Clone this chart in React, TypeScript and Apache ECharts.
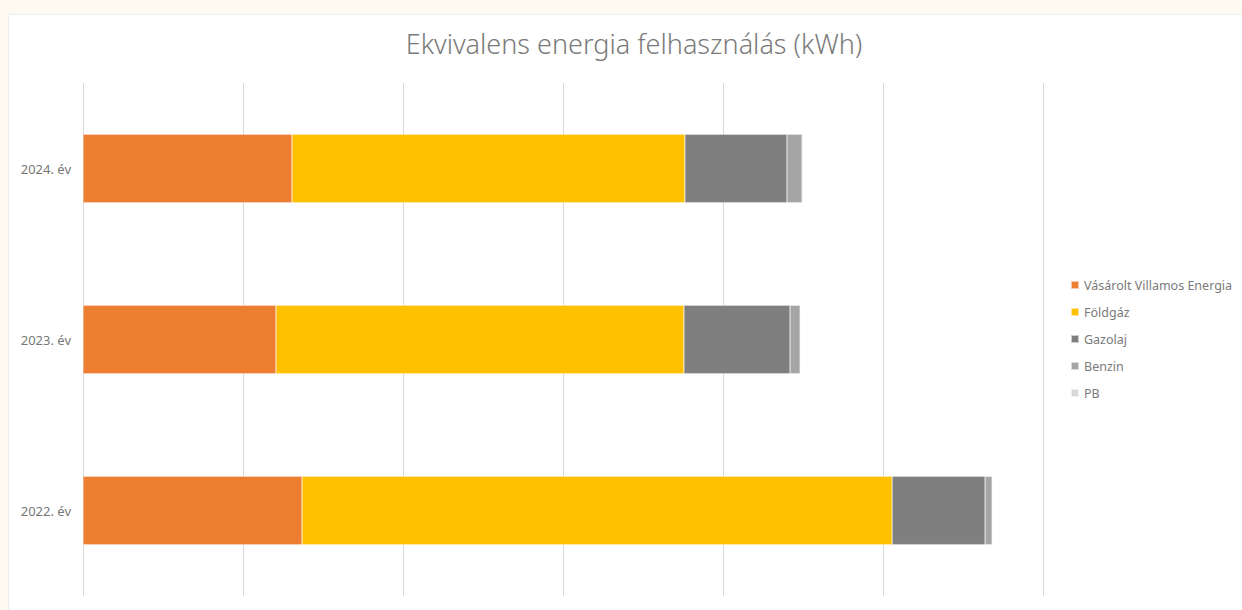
import React, { useEffect, useRef } from "react";
import * as echarts from "echarts";

const categories = ["2022. év", "2023. év", "2024. év"];
const seriesNames = ["Vásárolt Villamos Energia", "Földgáz", "Gazolaj", "Benzin", "PB"];
const villamos = [136900, 120600, 130600];
const foldgaz = [368800, 255000, 245600];
const gazolaj = [58100, 66300, 63800];
const benzin = [4400, 6300, 9400];
const pb = [400, 400, 600];
const colors = ["#ED7D31", "#FFC000", "#7F7F7F", "#A5A5A5", "#D9D9D9"];

export default function App() {
  const ref = useRef<HTMLDivElement>(null);
  useEffect(() => {
    document.body.style.margin = "0";
    if (!ref.current) return;
    const chart = echarts.init(ref.current, undefined, { renderer: "svg" });
    const values = [villamos, foldgaz, gazolaj, benzin, pb];
    chart.setOption({
      animation: false,
      title: {
        text: "Ekvivalens energia felhasználás (kWh)",
        left: 629,
        textAlign: "center",
        top: 25,
        textStyle: { fontFamily: "Noto Sans", fontSize: 27, fontWeight: 300, color: "#7a7a7a" },
      },
      legend: {
        orient: "vertical",
        left: 1065,
        top: 273,
        itemWidth: 8,
        itemHeight: 8,
        itemGap: 13,
        itemTextGap: 1,
        icon: "rect",
        textStyle: { fontFamily: "Noto Sans", fontSize: 12.5, color: "#7a7a7a", lineHeight: 14 },
        data: seriesNames,
      },
      grid: { left: 83, right: 199, top: 83, bottom: 14, containLabel: false },
      xAxis: {
        type: "value",
        min: 0,
        max: 600000,
        interval: 100000,
        axisLabel: { show: false },
        axisLine: { show: false },
        axisTick: { show: false },
        splitLine: { show: true, lineStyle: { color: "#D9D9D9", width: 1 } },
      },
      yAxis: {
        type: "category",
        data: categories,
        axisLine: { show: false },
        axisTick: { show: false },
        axisLabel: { margin: 12, fontFamily: "Noto Sans", fontSize: 13, color: "#777777" },
      },
      series: seriesNames.map((name, i) => ({
        name,
        type: "bar",
        stack: "total",
        barCategoryGap: "60%",
        data: values[i],
        itemStyle: { color: colors[i], borderColor: "rgba(255,255,255,0.6)", borderWidth: 0.5 },
      })),
    });
    return () => chart.dispose();
  }, []);
  return (
    <div style={{ position: "relative", width: 1242, height: 610, background: "#FFFAF1", overflow: "hidden" }}>
      <div
        style={{
          position: "absolute",
          left: 8,
          top: 14,
          width: 1240,
          height: 600,
          background: "#FFFFFF",
          border: "1px solid #EEEEEE",
        }}
      />
      <div ref={ref} style={{ position: "absolute", left: 0, top: 0, width: 1242, height: 610 }} />
    </div>
  );
}
